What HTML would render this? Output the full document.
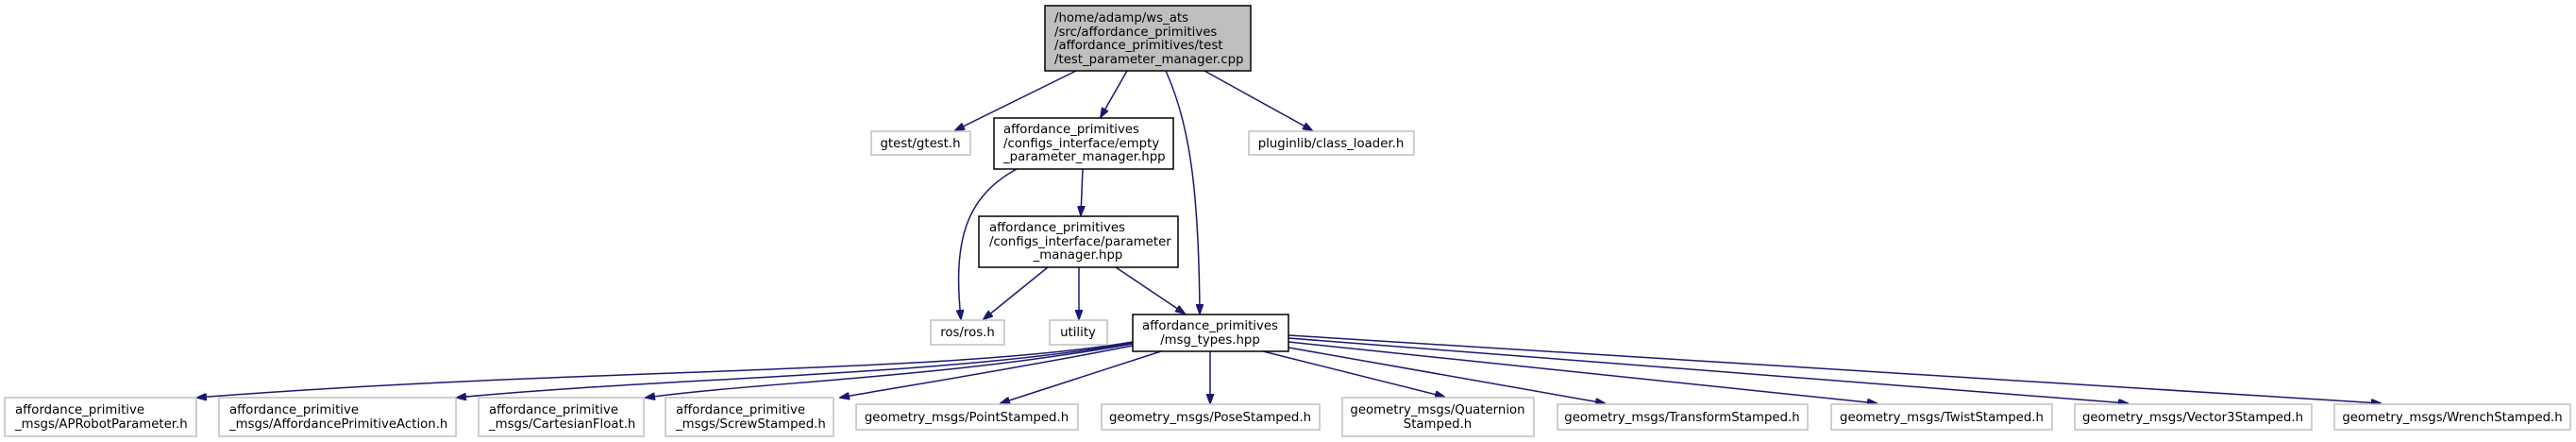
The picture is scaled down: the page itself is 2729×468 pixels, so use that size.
<!DOCTYPE html>
<html><head><meta charset="utf-8"><style>
html,body{margin:0;padding:0;background:#fff;}
svg{display:block;}
text{font-family:"DejaVu Sans","Liberation Sans",sans-serif;font-size:13.3px;fill:#000;}
.g{fill:#fff;stroke:#bfbfbf;stroke-width:1.5;}
.b{fill:#fff;stroke:#000;stroke-width:1.5;}
.e{fill:none;stroke:#191970;stroke-width:1.5;}
</style></head><body>
<svg width="2729" height="468" viewBox="0 0 2729 468" xmlns="http://www.w3.org/2000/svg">
<defs><marker id="a" markerWidth="11" markerHeight="8" refX="10" refY="4" orient="auto" markerUnits="userSpaceOnUse"><path d="M0,0 L11,4 L0,8 Z" fill="#191970" stroke="#191970"/></marker></defs>

<!-- edges -->
<g class="e" marker-end="url(#a)">
<path d="M1140,75 L1012,138"/>
<path d="M1194,75 L1166,124"/>
<path d="M1235,75 C1260,130 1270,200 1271,332"/>
<path d="M1276,75 L1390,138"/>
<path d="M1077,179 C1020,210 1010,260 1018,338"/>
<path d="M1147,179 L1145,228"/>
<path d="M1110,283 L1042,338"/>
<path d="M1143,283 L1143,338"/>
<path d="M1182,283 L1255,332"/>
<path d="M1200,362 C1000,396 600,390 209,421"/>
<path d="M1200,363 C1000,398 700,400 484,421"/>
<path d="M1200,364 C1000,400 800,405 684,421"/>
<path d="M1200,366 C1050,395 950,410 890,421"/>
<path d="M1230,372 L1060,427"/>
<path d="M1282,372 L1282,427"/>
<path d="M1338,372 L1530,420"/>
<path d="M1365,368 L1700,427"/>
<path d="M1365,362 L1988,427"/>
<path d="M1365,358 L2254,427"/>
<path d="M1365,355 L2522,427"/>
</g>

<!-- main -->
<rect x="1107" y="6" width="218" height="69" fill="#bfbfbf" stroke="#000" stroke-width="1.5"/>
<text x="1117" y="23">/home/adamp/ws_ats</text>
<text x="1117" y="38">/src/affordance_primitives</text>
<text x="1117" y="52">/affordance_primitives/test</text>
<text x="1117" y="67">/test_parameter_manager.cpp</text>

<rect class="g" x="923" y="139" width="105" height="25"/>
<text x="975" y="156" text-anchor="middle">gtest/gtest.h</text>

<rect class="b" x="1053" y="125" width="190" height="54"/>
<text x="1063" y="141">affordance_primitives</text>
<text x="1063" y="156">/configs_interface/empty</text>
<text x="1063" y="170">_parameter_manager.hpp</text>

<rect class="g" x="1323" y="139" width="175" height="25"/>
<text x="1410" y="156" text-anchor="middle">pluginlib/class_loader.h</text>

<rect class="b" x="1037" y="229" width="211" height="54"/>
<text x="1048" y="245">affordance_primitives</text>
<text x="1048" y="260">/configs_interface/parameter</text>
<text x="1142" y="274" text-anchor="middle">_manager.hpp</text>

<rect class="g" x="986" y="339" width="78" height="26"/>
<text x="1025" y="356" text-anchor="middle">ros/ros.h</text>
<rect class="g" x="1112" y="339" width="61" height="26"/>
<text x="1142" y="356" text-anchor="middle">utility</text>

<rect class="b" x="1200" y="333" width="165" height="39"/>
<text x="1282" y="349" text-anchor="middle">affordance_primitives</text>
<text x="1282" y="364" text-anchor="middle">/msg_types.hpp</text>

<!-- bottom row -->
<rect class="g" x="5" y="421" width="203" height="41"/>
<text x="16" y="438">affordance_primitive</text><text x="16" y="453">_msgs/APRobotParameter.h</text>
<rect class="g" x="232" y="421" width="251" height="41"/>
<text x="243" y="438">affordance_primitive</text><text x="243" y="453">_msgs/AffordancePrimitiveAction.h</text>
<rect class="g" x="507" y="421" width="175" height="41"/>
<text x="518" y="438">affordance_primitive</text><text x="518" y="453">_msgs/CartesianFloat.h</text>
<rect class="g" x="705" y="421" width="178" height="41"/>
<text x="716" y="438">affordance_primitive</text><text x="716" y="453">_msgs/ScrewStamped.h</text>

<rect class="g" x="907" y="428" width="235" height="27"/>
<text x="1024" y="446" text-anchor="middle">geometry_msgs/PointStamped.h</text>
<rect class="g" x="1167" y="428" width="231" height="27"/>
<text x="1282" y="446" text-anchor="middle">geometry_msgs/PoseStamped.h</text>
<rect class="g" x="1422" y="421" width="203" height="41"/>
<text x="1523" y="438" text-anchor="middle">geometry_msgs/Quaternion</text>
<text x="1523" y="453" text-anchor="middle">Stamped.h</text>
<rect class="g" x="1650" y="428" width="265" height="27"/>
<text x="1782" y="446" text-anchor="middle">geometry_msgs/TransformStamped.h</text>
<rect class="g" x="1940" y="428" width="234" height="27"/>
<text x="2057" y="446" text-anchor="middle">geometry_msgs/TwistStamped.h</text>
<rect class="g" x="2198" y="428" width="251" height="27"/>
<text x="2323" y="446" text-anchor="middle">geometry_msgs/Vector3Stamped.h</text>
<rect class="g" x="2473" y="428" width="250" height="27"/>
<text x="2598" y="446" text-anchor="middle">geometry_msgs/WrenchStamped.h</text>
</svg>
</body></html>
